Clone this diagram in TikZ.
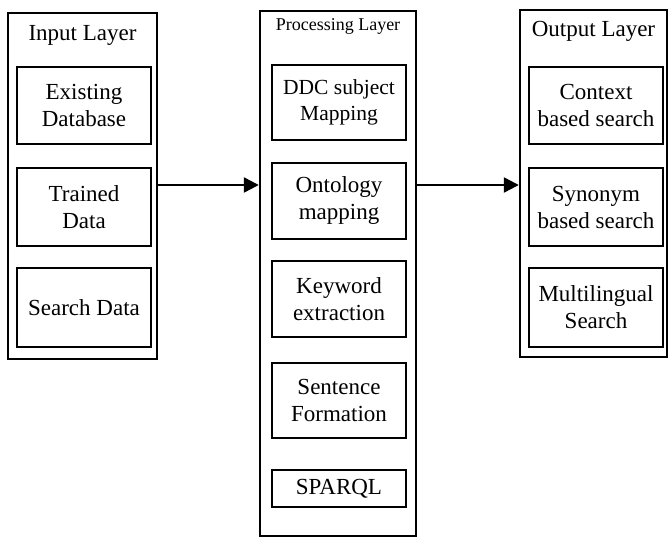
\documentclass[tikz,border=0pt]{standalone}
\usepackage{fontspec}
\setmainfont{Liberation Serif}
\usetikzlibrary{arrows.meta}
\begin{document}
\begin{tikzpicture}[x=1pt,y=-1pt,
  layerbox/.style={draw,line width=2.4pt,minimum width=#1,anchor=center,inner sep=0pt},
  itembox/.style={draw,line width=2.4pt,minimum width=134pt,align=center,
    font=\fontsize{23}{27}\selectfont,inner sep=0pt},
  title/.style={font=\fontsize{23}{27}\selectfont,inner sep=0pt},
  smalltitle/.style={font=\fontsize{18}{21}\selectfont,inner sep=0pt},
  flow/.style={line width=2.4pt,-{Triangle[length=15pt,width=15pt]}}]
\useasboundingbox (0,0) rectangle (670,538);

% layer frames
\node[layerbox=149pt,minimum height=346pt] (inp) at (82.5,186) {};
\node[layerbox=156pt,minimum height=525pt] (proc) at (338,273.5) {};
\node[layerbox=147pt,minimum height=347pt] (outp) at (593.5,183.5) {};

% input layer
\node[title] (tin) at (82.5,35) {Input Layer};
\node[itembox,minimum height=77pt] (edb) at (84,105.5) {Existing\\Database};
\node[itembox,minimum height=78pt] (trd) at (84,207) {Trained\\Data};
\node[itembox,minimum height=79pt] (srd) at (84,307.5) {Search Data};

% processing layer
\node[smalltitle] (tproc) at (338,26) {Processing Layer};
\node[itembox,minimum height=75pt,font=\fontsize{21.5}{26}\selectfont] (ddc) at (339,102.5) {DDC subject\\Mapping};
\node[itembox,minimum height=76pt] (ont) at (339,201) {Ontology\\mapping};
\node[itembox,minimum height=76pt] (kwe) at (339,299) {Keyword\\extraction};
\node[itembox,minimum height=75pt] (snf) at (339,400.5) {Sentence\\Formation};
\node[itembox,minimum height=37pt] (spq) at (339,488.5) {SPARQL};

% output layer
\node[title] (tout) at (593.5,31) {Output Layer};
\node[itembox,minimum height=77pt] (ctx) at (596,105.5) {Context\\based search};
\node[itembox,minimum height=78pt] (syn) at (596,207) {Synonym\\based search};
\node[itembox,minimum height=79pt] (mls) at (596,307.5) {Multilingual\\Search};

% flow between layers
\draw[flow] (inp.east |- 0,185) -- (proc.west |- 0,185);
\draw[flow] (proc.east |- 0,185) -- (outp.west |- 0,185);
\end{tikzpicture}
\end{document}
